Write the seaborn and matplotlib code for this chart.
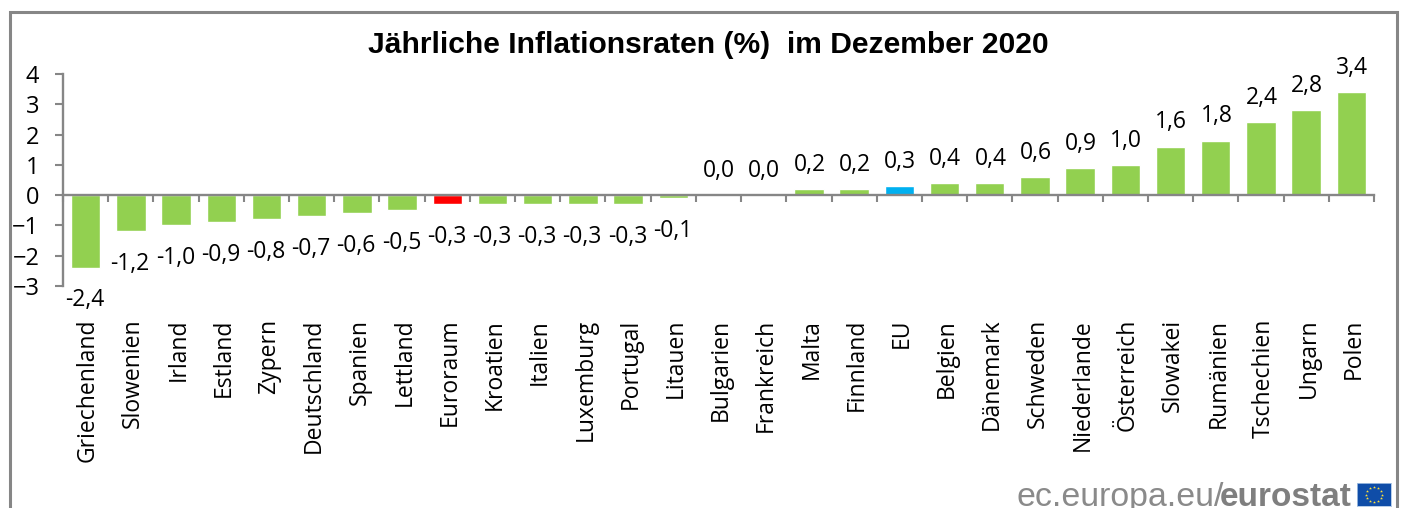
import matplotlib
matplotlib.use("Agg")
import matplotlib.pyplot as plt
import numpy as np
import pandas as pd
import seaborn as sns
from matplotlib.patches import Rectangle
from matplotlib.ticker import FixedLocator
from matplotlib.transforms import ScaledTranslation

countries = ["Griechenland", "Slowenien", "Irland", "Estland", "Zypern", "Deutschland", "Spanien", "Lettland",
             "Euroraum", "Kroatien", "Italien", "Luxemburg", "Portugal", "Litauen", "Bulgarien", "Frankreich",
             "Malta", "Finnland", "EU", "Belgien", "Dänemark", "Schweden", "Niederlande", "Österreich",
             "Slowakei", "Rumänien", "Tschechien", "Ungarn", "Polen"]
rates = [-2.4, -1.2, -1.0, -0.9, -0.8, -0.7, -0.6, -0.5, -0.3, -0.3, -0.3, -0.3, -0.3, -0.1,
         0.0, 0.0, 0.2, 0.2, 0.3, 0.4, 0.4, 0.6, 0.9, 1.0, 1.6, 1.8, 2.4, 2.8, 3.4]
GREEN, RED, BLUE = "#92D050", "#FF0000", "#00B0F0"
special = {"Euroraum": RED, "EU": BLUE}

W, H = 1404, 508
sns.set_theme(style="white")
plt.rcParams["font.family"] = ["Open Sans", "DejaVu Sans"]
fig = plt.figure(figsize=(W / 100, H / 100), dpi=100, facecolor="white")

# outer chart frame, open past the bottom edge of the picture
fig.add_artist(Rectangle((10 / W, -0.05), 1387 / W, 1.05 - 12.5 / H, transform=fig.transFigure,
                         fill=False, edgecolor="#868686", linewidth=2.2))

ax = fig.add_axes([63 / W, 1 - 286 / H, 1311 / W, 212 / H])
df = pd.DataFrame({"land": countries, "rate": rates})
sns.barplot(data=df, x="land", y="rate", hue="land", order=countries, dodge=False, legend=False,
            palette={c: special.get(c, GREEN) for c in countries}, width=0.65, saturation=1, ax=ax)
ax.set_xlim(-0.5, len(countries) - 0.5)
ax.set_ylim(-3, 4)
ax.set_xlabel("")
ax.set_ylabel("")
ax.patch.set_alpha(0)

for s in ("top", "right"):
    ax.spines[s].set_visible(False)
ax.spines["bottom"].set_position(("data", 0))
for s in ("bottom", "left"):
    ax.spines[s].set_color("#868686")
    ax.spines[s].set_linewidth(1.7)

ax.set_yticks(range(-3, 5))
ax.tick_params(axis="y", which="major", left=True, length=6, width=1.5, color="#868686",
               labelsize=17, labelcolor="black", pad=11)
ax.set_xticks(range(len(countries)))
ax.set_xticklabels(countries, rotation=90, ha="center", va="top")
ax.tick_params(axis="x", which="major", bottom=False, length=0, labelsize=16.5, labelcolor="black", pad=89)
shift = ScaledTranslation(2.5 / 100, 0, fig.dpi_scale_trans)
for lab in ax.get_xticklabels():
    lab.set_transform(lab.get_transform() + shift)
ax.xaxis.set_minor_locator(FixedLocator(np.arange(-0.5, len(countries), 1)))
ax.tick_params(axis="x", which="minor", bottom=True, length=5, width=1.5, color="#868686")

for i, v in enumerate(rates):
    label = f"{v:.1f}".replace(".", ",")
    offset = -23.5 if v < 0 else 17.5
    ax.annotate(label, (i, v), xytext=(-0.5 if v < 0 else 0.5, offset), textcoords="offset points",
                ha="center", va="center", fontsize=16.5, color="black")

fig.text(708 / W, 1 - 45 / H, "Jährliche Inflationsraten (%)  im Dezember 2020", ha="center", va="center",
         fontsize=21.6, fontweight="bold", family="Liberation Sans", color="black")

# eurostat logo
fig.text(1016 / W, 1 - 506 / H, "ec.europa.eu/", ha="left", va="baseline", fontsize=24.4,
         family="Liberation Sans", color="#8A8A8A")
fig.text(1352 / W, 1 - 506 / H, "eurostat", ha="right", va="baseline", fontsize=24, fontweight="bold",
         family="Liberation Sans", color="#7F7F7F")
logo = fig.add_axes([1357 / W, 1 - 506 / H, 34 / W, 23 / H])
logo.set_xlim(-1.48, 1.48)
logo.set_ylim(-1, 1)
logo.set_facecolor("#0F4DA8")
logo.set_xticks([])
logo.set_yticks([])
for s in logo.spines.values():
    s.set_color("#A9C4E4")
    s.set_linewidth(0.6)
ang = np.deg2rad(np.arange(0, 360, 30))
logo.scatter(0.66 * np.cos(ang), 0.66 * np.sin(ang), marker="*", s=5, color="#FFE23B", linewidths=0)

fig.savefig("out.png", dpi=100, facecolor="white")
